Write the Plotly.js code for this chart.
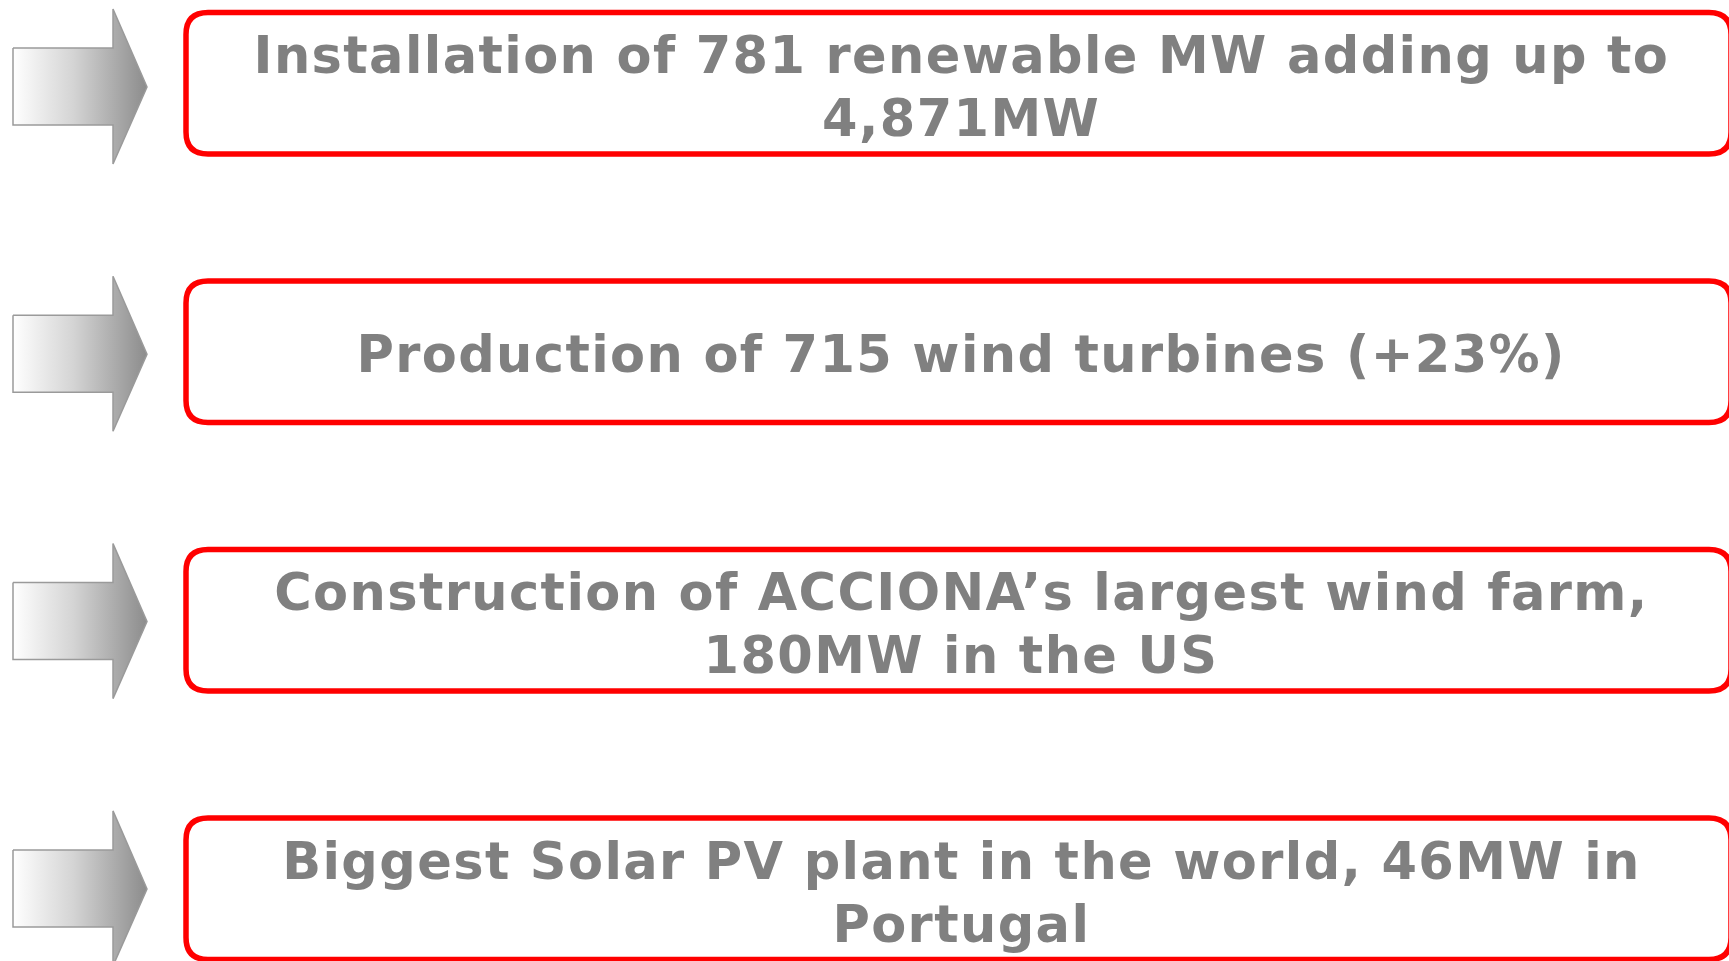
<!DOCTYPE html>
<html>
<head>
<meta charset="utf-8">
<script src="https://cdn.plot.ly/plotly-3.0.1.min.js"></script>
<style>
html,body{margin:0;padding:0;background:#fff;}
#chart{width:1729px;height:961px;}
#chart .annotation-text{letter-spacing:1.4px;}
</style>
</head>
<body>
<div id="chart"></div>
<script>
// Content of the four highlight boxes
const itemLine1 = [
  "Installation of 781 renewable MW adding up to",
  "Production of 715 wind turbines (+23%)",
  "Construction of ACCIONA\u2019s largest wind farm,",
  "Biggest Solar PV plant in the world, 46MW in"
];
const itemLine2 = [
  "4,871MW",
  "",
  "180MW in the US",
  "Portugal"
];

const W = 1729, H = 961;
const rowStep = 268.5, boxTop0 = 12.5, boxH = 141.5;
const boxL = 186, boxR = 1731, rad = 22;
const textX = 961;
const textFont = {family: "DejaVu Sans, Verdana, sans-serif", size: 51, color: "#808080", weight: "bold"};

const traces = [];
const shapes = [];
const annotations = [];

itemLine1.forEach((t, i) => {
  // arrow
  const cy = 87 + 267.3 * i;
  const ax = [13, 113, 113, 147, 113, 113, 13, 13];
  const ay = [cy - 39, cy - 39, cy - 78, cy, cy + 77, cy + 38, cy + 38, cy - 39];
  traces.push({
    type: "scatter", mode: "lines", x: ax, y: ay,
    fill: "toself",
    fillgradient: {type: "horizontal", colorscale: [[0, "#ffffff"], [0.45, "#d4d4d4"], [1, "#8c8c8c"]]},
    line: {color: "#9a9a9a", width: 1.5},
    hoverinfo: "skip", showlegend: false
  });
  // rounded box
  const top = boxTop0 + rowStep * i, bot = top + boxH;
  const p = `M ${boxL + rad},${top} L ${boxR - rad},${top} Q ${boxR},${top} ${boxR},${top + rad} ` +
            `L ${boxR},${bot - rad} Q ${boxR},${bot} ${boxR - rad},${bot} L ${boxL + rad},${bot} ` +
            `Q ${boxL},${bot} ${boxL},${bot - rad} L ${boxL},${top + rad} Q ${boxL},${top} ${boxL + rad},${top} Z`;
  shapes.push({type: "path", path: p, xref: "x", yref: "y", line: {color: "#ff0000", width: 5.5}, fillcolor: "rgba(0,0,0,0)"});
  // text
  if (itemLine2[i]) {
    annotations.push({x: textX, y: top + 43, xref: "x", yref: "y", text: t, showarrow: false, font: textFont, xanchor: "center", yanchor: "middle"});
    annotations.push({x: textX, y: top + 106, xref: "x", yref: "y", text: itemLine2[i], showarrow: false, font: textFont, xanchor: "center", yanchor: "middle"});
  } else {
    annotations.push({x: textX, y: top + 73.5, xref: "x", yref: "y", text: t, showarrow: false, font: textFont, xanchor: "center", yanchor: "middle"});
  }
});

const layout = {
  width: W, height: H,
  margin: {l: 0, r: 0, t: 0, b: 0, pad: 0},
  paper_bgcolor: "#ffffff", plot_bgcolor: "#ffffff",
  xaxis: {range: [0, W], visible: false, fixedrange: true},
  yaxis: {range: [H, 0], visible: false, fixedrange: true},
  shapes: shapes, annotations: annotations, showlegend: false
};

Plotly.newPlot("chart", traces, layout, {displayModeBar: false, staticPlot: true});
</script>
</body>
</html>
